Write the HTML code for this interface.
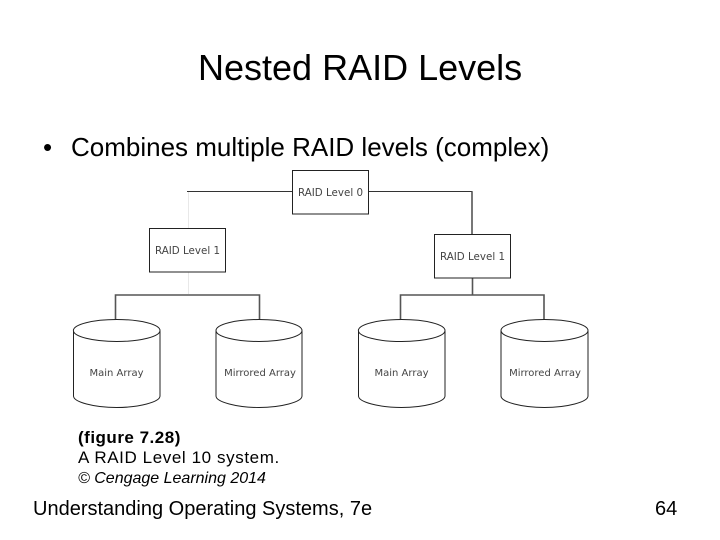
<!DOCTYPE html>
<html>
<head>
<meta charset="utf-8">
<style>
html,body{margin:0;padding:0;background:#fff;}
#s{position:relative;width:720px;height:540px;overflow:hidden;background:#fff;font-family:"Liberation Sans",Arial,sans-serif;color:#000;}
.t{position:absolute;white-space:nowrap;line-height:1;}
svg{position:absolute;left:0;top:0;}
</style>
</head>
<body>
<div id="s">
<svg width="720" height="540" viewBox="0 0 720 540" fill="none">
  <g stroke="#e8e8e8" stroke-width="1">
    <path d="M188.500 192V228M188.500 272V294"/>
  </g>
  <g stroke="#333" stroke-width="1">
    <path d="M187 191.500H292M368 191.500H472.500"/>
  </g>
  <g stroke="#555" stroke-width="1.600">
    <path d="M472 191.500V234"/>
    <path d="M472.500 278V295"/>
    <path d="M115.500 319V295H259.500V319"/>
    <path d="M400.500 319V295H544V319"/>
  </g>
  <g stroke="#222" stroke-width="1" fill="#fff">
    <rect x="292.500" y="170.500" width="76" height="43.500"/>
    <rect x="149.500" y="228.500" width="76" height="43.500"/>
    <rect x="434.500" y="234.500" width="76" height="43.500"/>
  </g>
  <g stroke="#222" stroke-width="1" fill="#fff">
    <path d="M73.500 331V396C73.500 402 94 407.500 116.500 407.500S160 402 160 396V331"/>
    <ellipse cx="116.700" cy="330.500" rx="43.300" ry="11"/>
    <path d="M216 331V396C216 402 237 407.500 259 407.500S302 402 302 396V331"/>
    <ellipse cx="259" cy="330.500" rx="43" ry="11"/>
    <path d="M358.500 331V396C358.500 402 379 407.500 401.500 407.500S445 402 445 396V331"/>
    <ellipse cx="401.700" cy="330.500" rx="43.300" ry="11"/>
    <path d="M501 331V396C501 402 522 407.500 544.500 407.500S588 402 588 396V331"/>
    <ellipse cx="544.500" cy="330.500" rx="43.500" ry="11"/>
  </g>
  <g font-family="'DejaVu Sans',sans-serif" font-size="10.300" fill="#444" text-anchor="middle">
    <text x="330.500" y="196">RAID Level 0</text>
    <text x="187.500" y="254">RAID Level 1</text>
    <text x="472.500" y="260">RAID Level 1</text>
    <text x="116.500" y="376" font-size="10">Main Array</text>
    <text x="260" y="376" font-size="10">Mirrored Array</text>
    <text x="401.500" y="376" font-size="10">Main Array</text>
    <text x="545" y="376" font-size="10">Mirrored Array</text>
  </g>
</svg>
<div class="t" style="left:198px;top:50px;font-size:36px;">Nested RAID Levels</div>
<div class="t" style="left:43px;top:134px;font-size:26px;">•</div>
<div class="t" style="left:71px;top:134px;font-size:26px;">Combines multiple RAID levels (complex)</div>
<div class="t" style="left:78px;top:429px;font-size:17px;font-weight:bold;letter-spacing:.5px;">(figure 7.28)</div>
<div class="t" style="left:78px;top:449px;font-size:17px;letter-spacing:.6px;">A RAID Level 10 system.</div>
<div class="t" style="left:78px;top:471px;font-size:16px;font-style:italic;">© Cengage Learning 2014</div>
<div class="t" style="left:33px;top:499px;font-size:20px;">Understanding Operating Systems, 7e</div>
<div class="t" style="left:655px;top:499px;font-size:20px;">64</div>
</div>
</body>
</html>
